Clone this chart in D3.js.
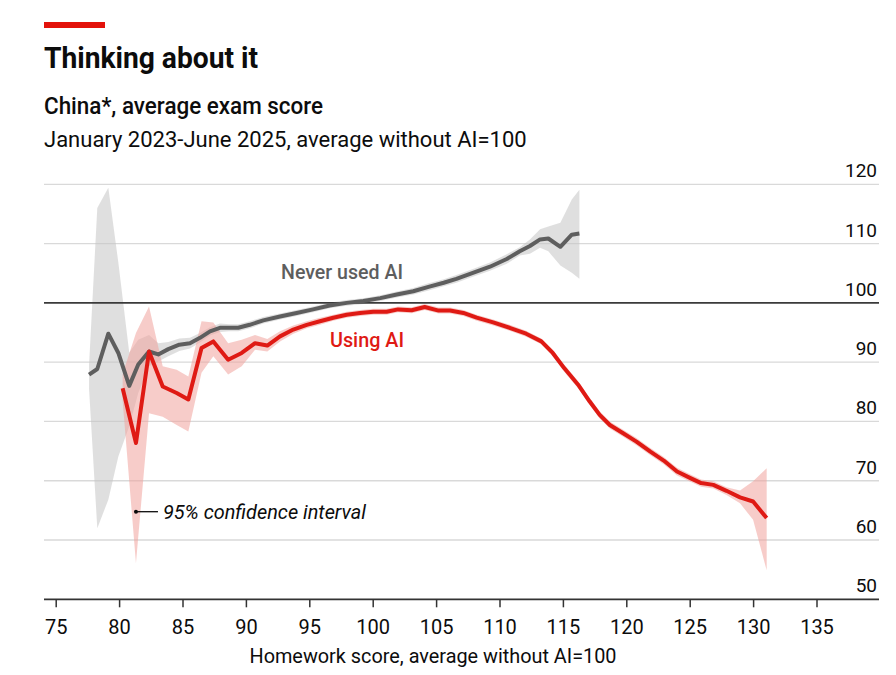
<!DOCTYPE html>
<html><head><meta charset="utf-8">
<script src="https://cdn.jsdelivr.net/npm/d3@7"></script>
<style>
html,body{margin:0;padding:0;background:#fff;}
text{font-family:Roboto,"Liberation Sans",sans-serif;}
</style></head>
<body>
<svg id="c" width="896" height="675"></svg>
<script>
// ---- data ----
const xTicks = [75,80,85,90,95,100,105,110,115,120,125,130,135];
const yTicks = [50,60,70,80,90,100,110,120];

const grayX  = [77.63,78.28,79.15,79.94,80.80,81.51,82.36,83.09,83.88,84.75,85.59,86.38,87.17,87.95,88.7,89.4,90.3,91.37,92.69,94.0,95.3,96.6,97.95,99.26,100.6,101.9,103.2,104.4,105.6,106.6,107.9,109.25,110.57,111.6,112.4,113.2,113.85,114.8,115.7,116.3];
const grayY  = [87.9,88.85,94.8,91.55,86.0,89.6,91.8,91.3,92.2,92.95,93.2,94.1,95.2,95.8,95.8,95.8,96.3,97.05,97.7,98.3,98.9,99.55,100.0,100.3,100.8,101.4,101.96,102.7,103.4,104.05,105.07,106.1,107.4,108.7,109.6,110.7,110.86,109.46,111.5,111.7];
const grayLo = [85.5,62,66.8,74.1,79.2,84.8,89.3,90.1,91.0,91.9,92.3,93.3,94.5,95.1,95.2,95.2,95.7,96.5,97.2,97.8,98.4,99.1,99.5,99.8,100.3,100.9,101.4,102.1,102.8,103.4,104.4,105.4,106.6,108.0,108.3,109.3,108.7,106.3,105.1,104.05];
const grayHi = [89.5,116,119.4,106.8,91.6,93.8,94.6,93.2,93.4,94.0,94.1,94.9,95.9,96.5,96.4,96.4,96.9,97.6,98.2,98.8,99.4,100.0,100.5,100.8,101.3,101.9,102.5,103.3,104.0,104.7,105.7,106.8,108.2,109.4,110.7,112.4,112.9,113.5,117.45,119.1];

const redX  = [80.28,81.33,82.36,83.44,84.54,85.46,86.5,87.43,88.6,89.67,90.72,91.69,92.69,93.74,94.80,95.84,96.89,97.95,99.0,100.05,101.1,102.0,103.07,104.1,105.2,106.1,107.15,108.2,109.5,110.8,112.1,113.3,114.2,115.1,116.2,117.1,117.9,118.7,119.75,120.8,121.9,122.95,124.0,125.1,125.9,126.86,127.9,128.97,130.0,131.07];
const redY  = [85.6,76.35,91.8,85.9,84.8,83.7,92.4,93.5,90.4,91.55,93.2,92.8,94.35,95.5,96.3,96.9,97.5,98.0,98.3,98.5,98.5,98.9,98.75,99.3,98.7,98.7,98.3,97.5,96.7,95.8,94.8,93.5,91.55,89.0,86.2,83.4,81.1,79.4,78.0,76.6,74.9,73.4,71.55,70.4,69.6,69.3,68.3,67.2,66.5,63.7];
const redLo = [83.5,56.1,81.4,80.8,79.4,78.3,88.2,91.0,87.9,89.3,92.1,91.8,93.5,94.8,95.7,96.3,97.0,97.5,97.8,98.0,98.0,98.4,98.25,98.8,98.2,98.2,97.8,97.0,96.2,95.3,94.3,93.0,91.0,88.4,85.6,82.8,80.5,78.8,77.4,76.0,74.3,72.8,70.9,69.8,69.0,68.7,67.6,66.2,63.4,54.9];
const redHi = [88.0,94.9,99.4,89.3,88.7,87.6,96.9,96.7,93.2,93.8,94.6,93.9,95.2,96.2,96.9,97.5,98.0,98.5,98.8,99.0,99.0,99.4,99.25,99.8,99.2,99.2,98.8,98.0,97.2,96.3,95.3,94.0,92.1,89.6,86.8,84.0,81.7,80.0,78.6,77.2,75.5,74.0,72.2,71.0,70.2,69.9,68.9,68.35,69.9,72.1];

// ---- drawing ----
const svg = d3.select("#c");
svg.append("rect").attr("width",896).attr("height",675).attr("fill","#fff");

const x = d3.scaleLinear().domain([75,135]).range([55.7,816.5]);
const y = d3.scaleLinear().domain([50,120]).range([599.3,184.3]);
const L = 44, R = 879;

function fit(sel, w){
  const n = sel.node();
  if (n.getComputedTextLength() > w) sel.attr("textLength", w).attr("lengthAdjust","spacingAndGlyphs");
}

// header
svg.append("rect").attr("x",44).attr("y",22).attr("width",61).attr("height",6).attr("fill","#e3120b");
fit(svg.append("text").attr("x",44).attr("y",68).attr("font-size",30).attr("font-weight",700).attr("fill","#0c0c0c").text("Thinking about it"),214);
fit(svg.append("text").attr("x",44).attr("y",114).attr("font-size",23).attr("font-weight",500).attr("fill","#0c0c0c").text("China*, average exam score"),279);
fit(svg.append("text").attr("x",44).attr("y",147).attr("font-size",22).attr("font-weight",400).attr("fill","#0c0c0c").text("January 2023-June 2025, average without AI=100"),494);

// gridlines
const grid = svg.append("g");
grid.selectAll("line").data(yTicks.filter(d=>d!==50 && d!==100)).join("line")
  .attr("x1",L).attr("x2",R).attr("y1",d=>y(d)).attr("y2",d=>y(d))
  .attr("stroke","#d9d9d9").attr("stroke-width",1.3);

// y labels
svg.append("g").selectAll("text").data(yTicks).join("text")
  .attr("x",877).attr("y",d=>y(d)-7).attr("text-anchor","end")
  .attr("font-size",19).attr("fill","#0c0c0c").text(d=>d);

// bands
const grayData = grayX.map((v,i)=>({x:v,y:grayY[i],lo:grayLo[i],hi:grayHi[i]}));
const redData  = redX.map((v,i)=>({x:v,y:redY[i],lo:redLo[i],hi:redHi[i]}));
const area = d3.area().x(d=>x(d.x)).y0(d=>y(d.lo)).y1(d=>y(d.hi));
svg.append("path").datum(grayData).attr("d",area).attr("fill","#c4c4c4").attr("fill-opacity",0.55);
svg.append("path").datum(redData).attr("d",area).attr("fill","#f0a39c").attr("fill-opacity",0.55);

// 100 reference line
svg.append("line").attr("x1",L).attr("x2",R).attr("y1",y(100)).attr("y2",y(100))
  .attr("stroke","#3a3a3a").attr("stroke-width",1.8);

// lines
const line = d3.line().x(d=>x(d.x)).y(d=>y(d.y));
svg.append("path").datum(grayData).attr("d",line).attr("fill","none")
  .attr("stroke","#5e5e5e").attr("stroke-width",4).attr("stroke-linejoin","round");
svg.append("path").datum(redData).attr("d",line).attr("fill","none")
  .attr("stroke","#df1a14").attr("stroke-width",4).attr("stroke-linejoin","round");

// x axis
const xa = svg.append("g").attr("transform",`translate(0,${y(50)})`);
xa.append("line").attr("x1",L).attr("x2",R).attr("stroke","#333").attr("stroke-width",1.8);
const axis = d3.axisBottom(x).tickValues(xTicks).tickSize(8).tickSizeOuter(0).tickPadding(8);
const ag = xa.append("g").call(axis);
ag.select(".domain").remove();
ag.selectAll(".tick line").attr("stroke","#333").attr("stroke-width",1.5);
ag.selectAll(".tick text").attr("font-size",20).attr("fill","#0c0c0c")
  .attr("font-family","Roboto,'Liberation Sans',sans-serif").attr("dy",0).attr("y",35);

fit(svg.append("text").attr("x",433).attr("y",663).attr("text-anchor","middle")
  .attr("font-size",20).attr("fill","#0c0c0c").text("Homework score, average without AI=100"),367);

// labels
fit(svg.append("text").attr("x",281).attr("y",279).attr("font-size",20).attr("font-weight",500)
  .attr("fill","#5e5e5e").text("Never used AI"),122);
fit(svg.append("text").attr("x",330).attr("y",347).attr("font-size",20).attr("font-weight",500)
  .attr("fill","#df1a14").text("Using AI"),74);

// annotation
const ax = x(81.33), ay = 511.7;
svg.append("circle").attr("cx",ax).attr("cy",ay).attr("r",2).attr("fill","#0c0c0c");
svg.append("line").attr("x1",ax).attr("x2",ax+22).attr("y1",ay).attr("y2",ay).attr("stroke","#0c0c0c").attr("stroke-width",1.3);
fit(svg.append("text").attr("x",ax+27).attr("y",ay+7).attr("font-size",20).attr("font-style","italic")
  .attr("fill","#0c0c0c").text("95% confidence interval"),203);
</script>
</body></html>
